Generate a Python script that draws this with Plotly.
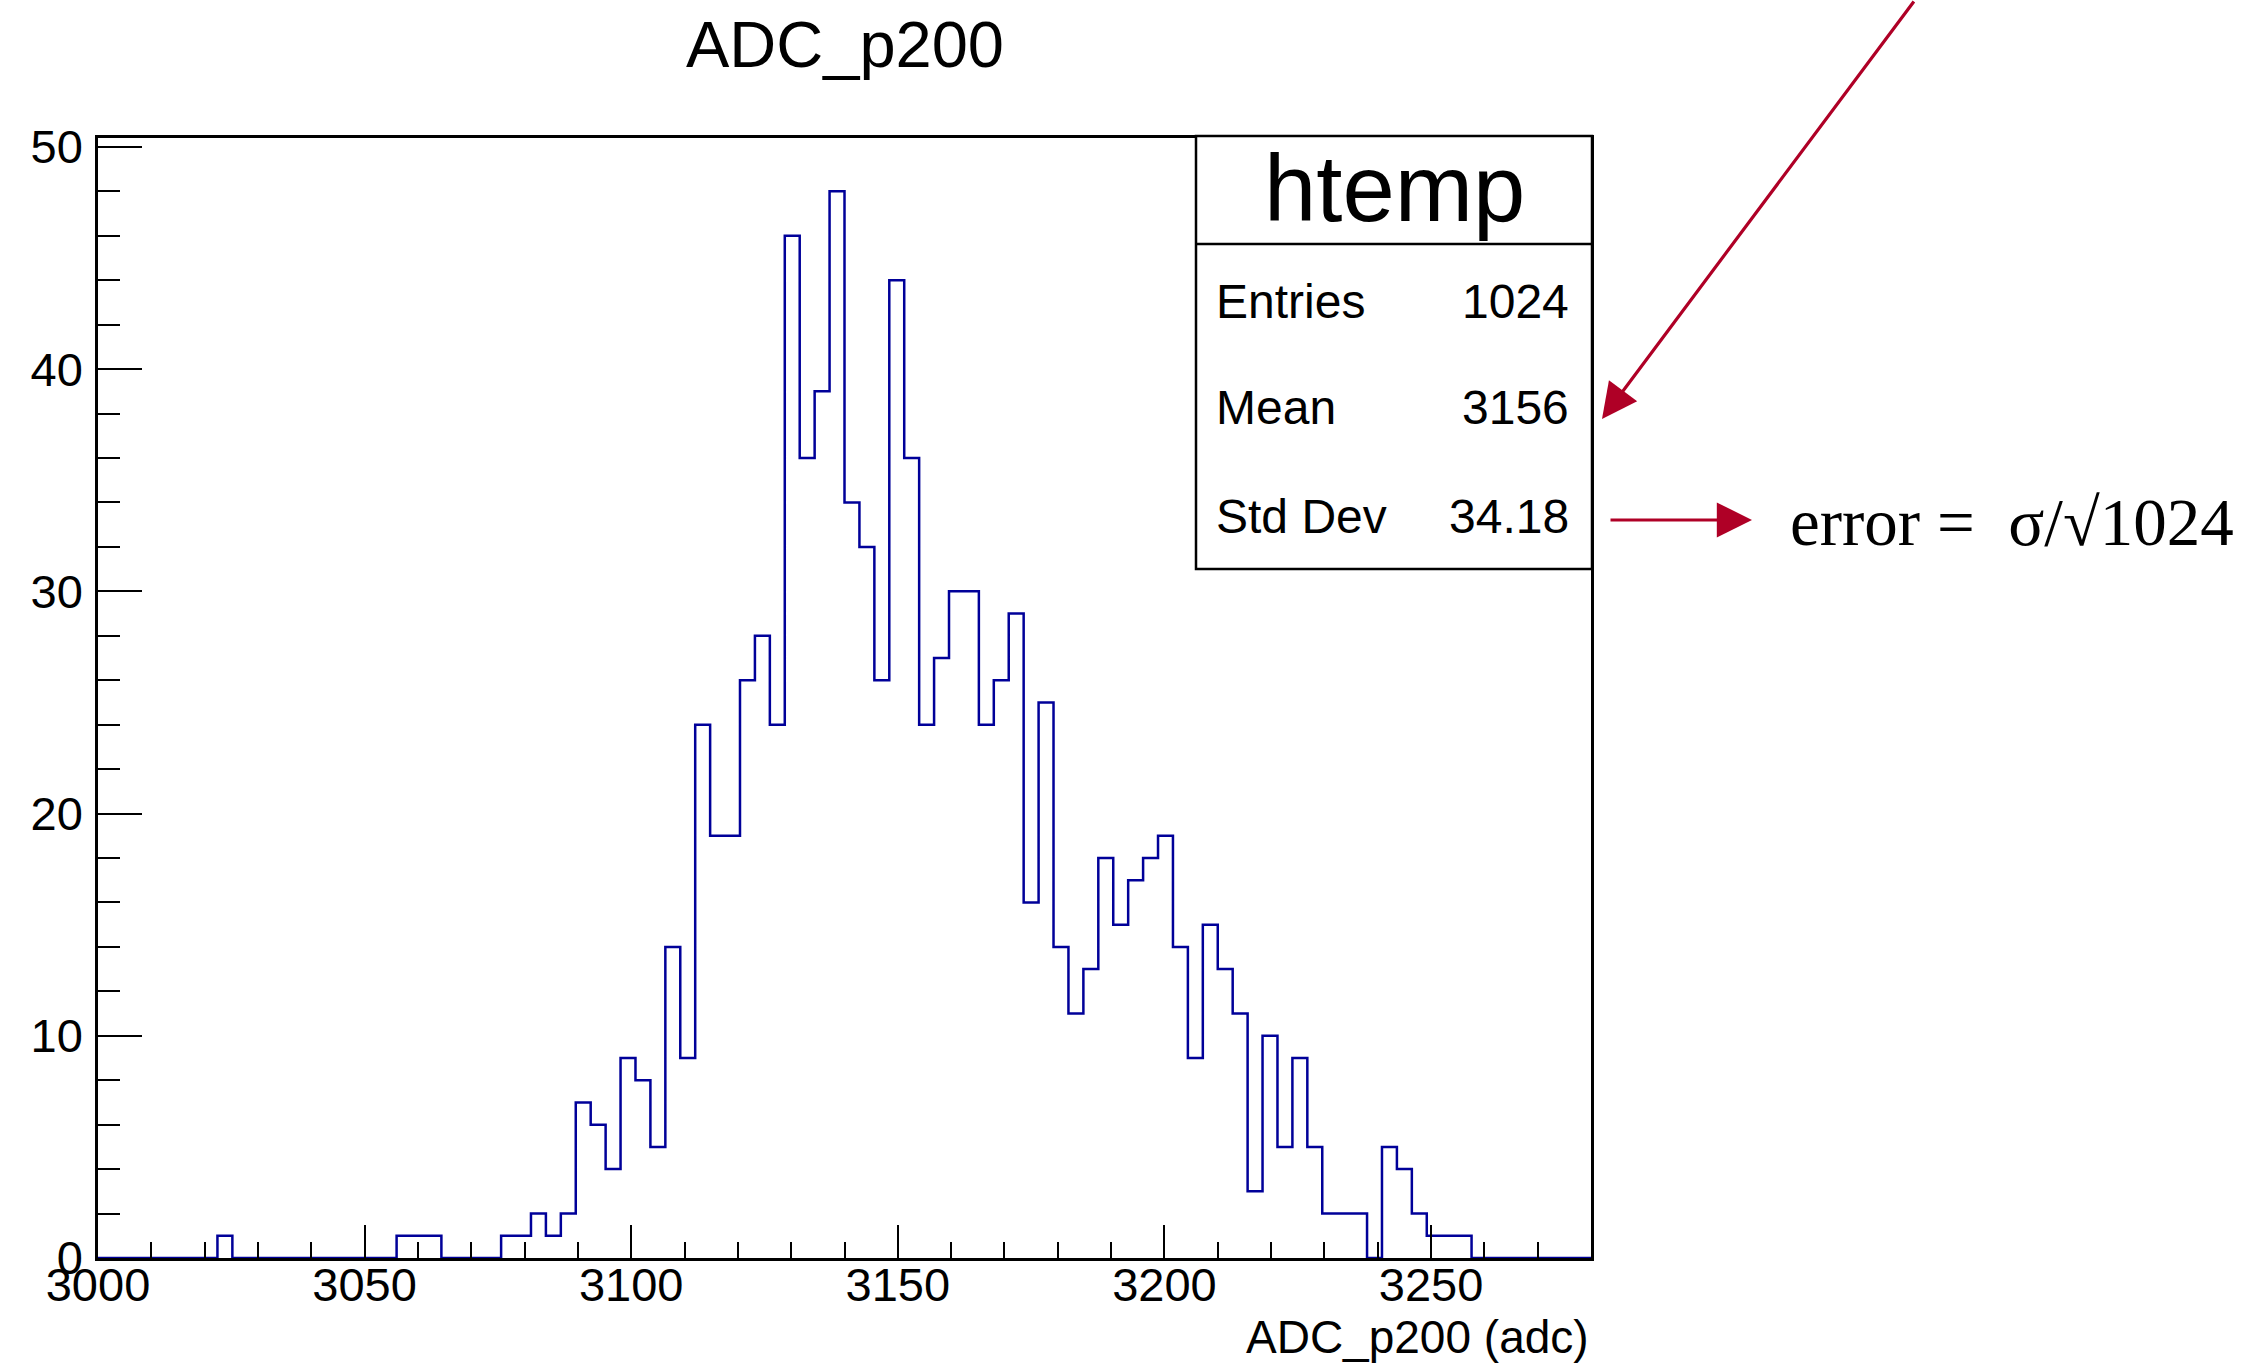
import plotly.graph_objects as go

# ---------------- data ----------------
hist_name = "htemp"
title_text = "ADC_p200"
x_title = "ADC_p200 (adc)"
x_min, x_max, n_bins = 3000.0, 3280.0, 100
counts = [
    0, 0, 0, 0, 0, 0, 0, 0, 1, 0,          # 0-9
    0, 0, 0, 0, 0, 0, 0, 0, 0, 0,          # 10-19
    1, 1, 1, 0, 0, 0, 0, 1, 1, 2,          # 20-29
    1, 2, 7, 6, 4, 9, 8, 5, 14, 9,         # 30-39
    24, 19, 19, 26, 28, 24, 46, 36, 39, 48,  # 40-49
    34, 32, 26, 44, 36, 24, 27, 30, 30, 24,  # 50-59
    26, 29, 16, 25, 14, 11, 13, 18, 15, 17,  # 60-69
    18, 19, 14, 9, 15, 13, 11, 3, 10, 5,     # 70-79
    9, 5, 2, 2, 2, 0, 5, 4, 2, 1,            # 80-89
    1, 1, 0, 0, 0, 0, 0, 0, 0, 0,            # 90-99
]
stat_labels = ["Entries", "Mean", "Std Dev"]
stat_values = ["1024", "3156", "34.18"]
note_text = "error =  σ/√1024"

# ---------------- layout helpers ----------------
W, H = 2249, 1366
L, R, T, B = 98, 1591, 138, 1258
bw = (x_max - x_min) / n_bins
edges = [x_min + i * bw for i in range(n_bins + 1)]
y_top = max(counts) * 1.05


def px(xp):
    return (xp - L) / (R - L)


def py(yp):
    return (B - yp) / (B - T)


SANS = "Liberation Sans, Arial, Helvetica, sans-serif"
SERIF = "Liberation Serif, Times New Roman, serif"
RED = "rgb(175,0,38)"

fig = go.Figure()
fig.add_trace(go.Scatter(
    x=edges, y=counts + [counts[-1]],
    mode="lines", line=dict(color="rgb(0,0,153)", width=2.5, shape="hv"),
    hoverinfo="skip", showlegend=False,
))

axis_common = dict(
    showline=True, linecolor="black", linewidth=2.5, mirror=True,
    showgrid=False, zeroline=False, ticks="inside", tickcolor="black",
    tickwidth=2, tickfont=dict(family=SANS, size=47, color="black"),
)
fig.update_xaxes(range=[x_min, x_max], tickmode="linear", tick0=3000, dtick=50,
                 ticklen=33, ticklabelstandoff=-16,
                 minor=dict(dtick=10, tick0=3000, ticklen=16, ticks="inside",
                            tickcolor="black", tickwidth=2),
                 **axis_common)
fig.update_yaxes(range=[0, y_top], tickmode="linear", tick0=0, dtick=10,
                 ticklen=44, ticklabelstandoff=3,
                 minor=dict(dtick=2, tick0=0, ticklen=22, ticks="inside",
                            tickcolor="black", tickwidth=2),
                 **axis_common)

shapes = []
ann = []
# stats box
bx0, bx1, by0, by1, bdiv = 1196, 1592, 136, 569, 244
shapes.append(dict(type="rect", xref="paper", yref="paper",
                   x0=px(bx0), x1=px(bx1), y0=py(by1), y1=py(by0),
                   line=dict(color="black", width=2.5), fillcolor="white", layer="above"))
shapes.append(dict(type="line", xref="paper", yref="paper",
                   x0=px(bx0), x1=px(bx1), y0=py(bdiv), y1=py(bdiv),
                   line=dict(color="black", width=2.5), layer="above"))
ann.append(dict(text=hist_name, xref="paper", yref="paper", x=px((bx0 + bx1) / 2), y=py(189),
                xanchor="center", yanchor="middle", showarrow=False,
                font=dict(family=SANS, size=94, color="black")))
row_y = [301, 407, 516]
for lab, val, yy in zip(stat_labels, stat_values, row_y):
    ann.append(dict(text=lab, xref="paper", yref="paper", x=px(1214), y=py(yy),
                    xanchor="left", yanchor="middle", showarrow=False,
                    font=dict(family=SANS, size=48, color="black")))
    ann.append(dict(text=val, xref="paper", yref="paper", x=px(1571), y=py(yy),
                    xanchor="right", yanchor="middle", showarrow=False,
                    font=dict(family=SANS, size=48, color="black")))

# title and axis title
ann.append(dict(text=title_text, xref="paper", yref="paper", x=0.5, y=py(45),
                xanchor="center", yanchor="middle", showarrow=False,
                font=dict(family=SANS, size=65, color="black")))
ann.append(dict(text=x_title, xref="paper", yref="paper", x=1.0, y=py(1337),
                xanchor="right", yanchor="middle", showarrow=False,
                font=dict(family=SANS, size=46, color="black")))

# red arrows and note
ann.append(dict(text="", xref="paper", yref="paper", x=px(1602), y=py(419),
                ax=1915 - 1602, ay=0 - 419, axref="pixel", ayref="pixel",
                showarrow=True, arrowhead=2, arrowsize=2.2, arrowwidth=3.2,
                arrowcolor=RED, standoff=0))
ann.append(dict(text="", xref="paper", yref="paper", x=px(1752), y=py(520),
                ax=1609 - 1752, ay=0, axref="pixel", ayref="pixel",
                showarrow=True, arrowhead=2, arrowsize=2.2, arrowwidth=3.2,
                arrowcolor=RED, standoff=0))
ann.append(dict(text=note_text, xref="paper", yref="paper", x=px(1788), y=py(522),
                xanchor="left", yanchor="middle", showarrow=False,
                font=dict(family=SERIF, size=67, color="black")))

fig.update_layout(
    width=W, height=H, margin=dict(l=L, r=W - R, t=T, b=H - B),
    paper_bgcolor="white", plot_bgcolor="white",
    shapes=shapes, annotations=ann, showlegend=False,
    font=dict(family=SANS, color="black"),
)
fig.write_html("out.html")
